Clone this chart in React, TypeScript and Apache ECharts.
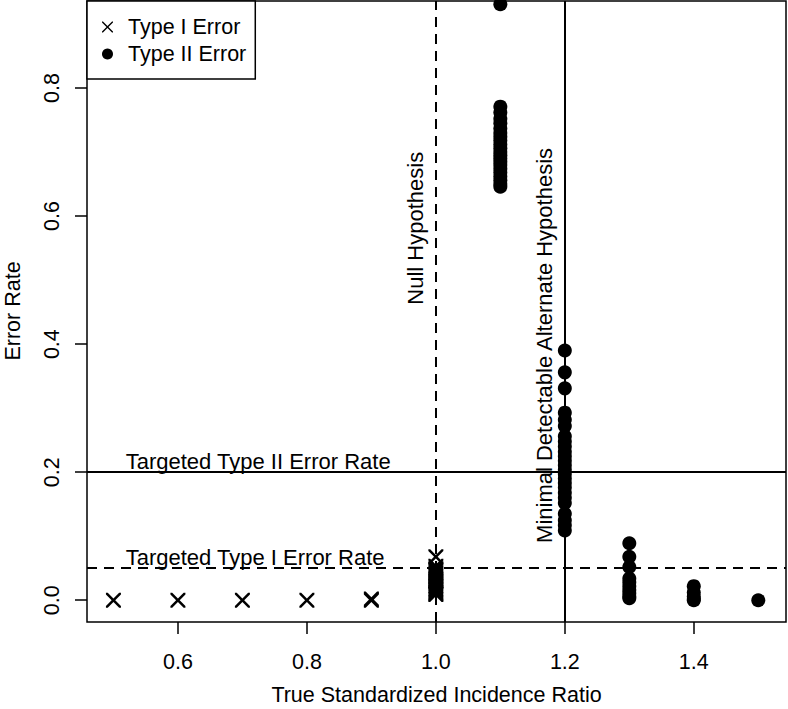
import { useEffect, useRef } from "react";
import * as echarts from "echarts";

// ---- data ----
const xTicks = [0.6, 0.8, 1.0, 1.2, 1.4];
const yTicks = [0.0, 0.2, 0.4, 0.6, 0.8];

const typeIErrorPoints: [number, number][] = [
  [0.5, 0], [0.6, 0], [0.7, 0], [0.8, 0], [0.9, 0], [0.9, 0.002],
  [1.0, 0.068], [1.0, 0.053], [1.0, 0.049], [1.0, 0.046], [1.0, 0.043], [1.0, 0.04],
  [1.0, 0.037], [1.0, 0.034], [1.0, 0.031], [1.0, 0.029], [1.0, 0.026], [1.0, 0.023],
  [1.0, 0.021], [1.0, 0.018], [1.0, 0.016], [1.0, 0.013], [1.0, 0.011], [1.0, 0.009],
];

const typeIIErrorPoints: [number, number][] = [
  [1.1, 0.931], [1.1, 0.771], [1.1, 0.762], [1.1, 0.752], [1.1, 0.745], [1.1, 0.737],
  [1.1, 0.73], [1.1, 0.724], [1.1, 0.718], [1.1, 0.712], [1.1, 0.706], [1.1, 0.7],
  [1.1, 0.695], [1.1, 0.69], [1.1, 0.685], [1.1, 0.68], [1.1, 0.674], [1.1, 0.668],
  [1.1, 0.662], [1.1, 0.656], [1.1, 0.65], [1.1, 0.646],
  [1.2, 0.39], [1.2, 0.356], [1.2, 0.331], [1.2, 0.293], [1.2, 0.282], [1.2, 0.272],
  [1.2, 0.256], [1.2, 0.248], [1.2, 0.24], [1.2, 0.232], [1.2, 0.225], [1.2, 0.218],
  [1.2, 0.211], [1.2, 0.204], [1.2, 0.197], [1.2, 0.19], [1.2, 0.183], [1.2, 0.176],
  [1.2, 0.168], [1.2, 0.16], [1.2, 0.152], [1.2, 0.135], [1.2, 0.125], [1.2, 0.117], [1.2, 0.109],
  [1.3, 0.089], [1.3, 0.068], [1.3, 0.052], [1.3, 0.034], [1.3, 0.028], [1.3, 0.022],
  [1.3, 0.016], [1.3, 0.011], [1.3, 0.006], [1.3, 0.003],
  [1.4, 0.022], [1.4, 0.012], [1.4, 0.006], [1.4, 0.002], [1.4, 0],
  [1.5, 0],
];

const hRefValues = [0.2, 0.05];
const hRefLabels = ["Targeted Type II Error Rate", "Targeted Type I Error Rate"];
const hRefDashed = [false, true];
const hRefLabelX = [0.519, 0.519];

const vRefValues = [1.0, 1.2];
const vRefLabels = ["Null Hypothesis", "Minimal Detectable Alternate Hypothesis"];
const vRefDashed = [true, false];
const vRefLabelY = [0.581, 0.398];

const xTitle = "True Standardized Incidence Ratio";
const yTitle = "Error Rate";

// ---- style ----
const FONT = "'Liberation Sans', Arial, Helvetica, sans-serif";
const FS = 21.5;
const FS_REF = 22;
const crossSymbol =
  "path://M0,0L12,0L50,38L88,0L100,0L100,12L62,50L100,88L100,100L88,100L50,62L12,100L0,100L0,88L38,50L0,12Z";
const crossIcon =
  "path://M0,0L9,0L50,41L91,0L100,0L100,9L59,50L100,91L100,100L91,100L50,59L9,100L0,100L0,91L41,50L0,9Z";

export default function App() {
  const ref = useRef<HTMLDivElement>(null);

  useEffect(() => {
    if (!ref.current) return;
    const chart = echarts.init(ref.current, undefined, { renderer: "svg" });

    const markData: any[] = [];
    hRefValues.forEach((v, i) =>
      markData.push({ yAxis: v, lineStyle: { type: hRefDashed[i] ? [10, 7] : "solid" } })
    );
    vRefValues.forEach((v, i) =>
      markData.push({ xAxis: v, lineStyle: { type: vRefDashed[i] ? [10, 7] : "solid" } })
    );

    chart.setOption({
      animation: false,
      backgroundColor: "#fff",
      textStyle: { fontFamily: FONT },
      grid: {
        left: 87,
        right: 2,
        top: 1,
        bottom: 87,
        show: true,
        borderColor: "#000",
        borderWidth: 1.5,
      },
      xAxis: {
        type: "value",
        min: 0.459,
        max: 1.543,
        axisLine: { show: false, onZero: false },
        splitLine: { show: false },
        axisTick: {
          show: true,
          customValues: xTicks,
          length: 12,
          lineStyle: { color: "#000", width: 1.5 },
        },
        axisLabel: {
          customValues: xTicks,
          formatter: (v: number) => v.toFixed(1),
          fontSize: FS,
          color: "#000",
          fontFamily: FONT,
          margin: 29,
        },
      },
      yAxis: {
        type: "value",
        min: -0.034,
        max: 0.936,
        axisLine: { show: false, onZero: false },
        splitLine: { show: false },
        axisTick: {
          show: true,
          customValues: yTicks,
          length: 12,
          lineStyle: { color: "#000", width: 1.5 },
        },
        axisLabel: {
          customValues: yTicks,
          formatter: (v: number) => v.toFixed(1),
          fontSize: FS,
          color: "#000",
          fontFamily: FONT,
          rotate: 90,
          margin: 24,
        },
      },
      legend: {
        data: [
          { name: "Type I Error", icon: crossIcon },
          { name: "Type II Error", icon: "circle" },
        ],
        orient: "vertical",
        left: 87,
        top: 1,
        backgroundColor: "#fff",
        borderColor: "#000",
        borderWidth: 1.5,
        borderRadius: 0,
        padding: [15, 9, 14, 15],
        itemGap: 5,
        itemWidth: 11,
        itemHeight: 11,
        selectedMode: false,
        textStyle: { fontSize: FS, color: "#000", fontFamily: FONT, padding: [0, 0, 0, 10] },
        z: 10,
      },
      series: [
        {
          name: "ref",
          type: "scatter",
          data: [],
          z: 1,
          markLine: {
            silent: true,
            symbol: ["none", "none"],
            label: { show: false },
            lineStyle: { color: "#000", width: 2 },
            data: markData,
          },
        },
        {
          name: "Type I Error",
          type: "scatter",
          symbol: crossSymbol,
          symbolSize: 15,
          itemStyle: { color: "#000", opacity: 1 },
          z: 3,
          data: typeIErrorPoints,
        },
        {
          name: "Type II Error",
          type: "scatter",
          symbol: "circle",
          symbolSize: 14,
          itemStyle: { color: "#000", opacity: 1 },
          z: 3,
          data: typeIIErrorPoints,
        },
      ],
    });

    const toPx = (x: number, y: number) =>
      chart.convertToPixel({ gridIndex: 0 }, [x, y]) as number[];

    const graphics: any[] = [];
    hRefValues.forEach((v, i) => {
      const p = toPx(hRefLabelX[i], v);
      graphics.push({
        type: "text",
        x: p[0],
        y: p[1],
        z: 5,
        style: {
          text: hRefLabels[i],
          fontSize: FS_REF,
          fontFamily: FONT,
          fill: "#000",
          align: "left",
          verticalAlign: "bottom",
        },
      });
    });
    vRefValues.forEach((v, i) => {
      const p = toPx(v, vRefLabelY[i]);
      graphics.push({
        type: "text",
        x: p[0] - 9,
        y: p[1],
        rotation: Math.PI / 2,
        z: 5,
        style: {
          text: vRefLabels[i],
          fontSize: FS_REF,
          fontFamily: FONT,
          fill: "#000",
          align: "center",
          verticalAlign: "bottom",
        },
      });
    });
    graphics.push({
      type: "text",
      x: (87 + 786) / 2,
      y: 695,
      style: {
        text: xTitle,
        fontSize: FS,
        fontFamily: FONT,
        fill: "#000",
        align: "center",
        verticalAlign: "middle",
      },
    });
    graphics.push({
      type: "text",
      x: 13,
      y: 311,
      rotation: Math.PI / 2,
      style: {
        text: yTitle,
        fontSize: FS,
        fontFamily: FONT,
        fill: "#000",
        align: "center",
        verticalAlign: "middle",
      },
    });
    chart.setOption({ graphic: graphics });

    return () => chart.dispose();
  }, []);

  return (
    <div
      ref={ref}
      style={{ position: "fixed", left: 0, top: 0, width: 788, height: 709, background: "#fff" }}
    />
  );
}
